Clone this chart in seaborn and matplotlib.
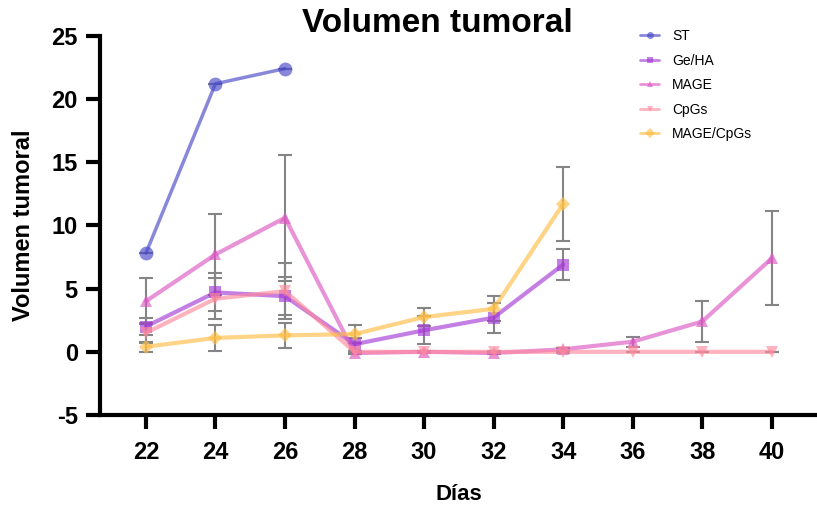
import numpy as np
import pandas as pd
import seaborn as sns
import matplotlib.pyplot as plt

sns.set_style("white")
plt.rcParams['font.family'] = ['Liberation Sans Narrow', 'Liberation Sans', 'DejaVu Sans']
plt.rcParams['axes.unicode_minus'] = False
plt.rcParams['text.color'] = 'black'
plt.rcParams['axes.labelcolor'] = 'black'
plt.rcParams['xtick.color'] = 'black'
plt.rcParams['ytick.color'] = 'black'

# datos (media y error)
dias = [22, 24, 26, 28, 30, 32, 34, 36, 38, 40]
nan = np.nan
st = [7.8, 21.2, 22.4, nan, nan, nan, nan, nan, nan, nan]
st_err = [0, 0, 0, nan, nan, nan, nan, nan, nan, nan]
geha = [2.0, 4.7, 4.4, 0.6, 1.7, 2.7, 6.9, nan, nan, nan]
geha_err = [0.7, 1.5, 1.5, 0.5, 1.1, 1.2, 1.2, nan, nan, nan]
mage = [4.0, 7.7, 10.6, -0.1, 0.0, -0.1, 0.2, 0.8, 2.4, 7.4]
mage_err = [1.8, 3.2, 5.0, 0.1, 0.1, 0.1, 0.1, 0.4, 1.6, 3.7]
cpgs = [1.5, 4.2, 4.8, 0.0, 0.0, 0.0, 0.0, 0.0, 0.0, 0.0]
cpgs_err = [0.8, 1.6, 2.2, 0.1, 0.1, 0.1, 0.1, 0.0, 0.0, 0.0]
mage_cpgs = [0.4, 1.1, 1.3, 1.4, 2.75, 3.4, 11.7, nan, nan, nan]
mage_cpgs_err = [0.4, 1.0, 1.0, 0.7, 0.7, 1.0, 2.9, nan, nan, nan]

grupos = ["ST", "Ge/HA", "MAGE", "CpGs", "MAGE/CpGs"]
medias = [st, geha, mage, cpgs, mage_cpgs]
errores = [st_err, geha_err, mage_err, cpgs_err, mage_cpgs_err]
colores = ["#4848c8", "#a43bd4", "#dc58c4", "#ff8a9c", "#ffbe45"]
marcadores = ["o", "s", "^", "v", "D"]
tamanos = [10, 9, 9, 9, 7]
grosores = [2.5, 3, 3, 3, 3]

fig = plt.figure(figsize=(8.17, 5.08), dpi=100)
ax = fig.add_axes([0.1224, 0.183, 0.8776, 0.7467])

for g, m, e, c, mk, ms, lw in zip(grupos, medias, errores, colores, marcadores, tamanos, grosores):
    df = pd.DataFrame({"dia": dias, "vol": m, "err": e}).dropna()
    ax.errorbar(df["dia"], df["vol"], yerr=df["err"], fmt="none", ecolor="#858585",
                elinewidth=1.5, capsize=5, capthick=1.5, zorder=1)
    sns.lineplot(x=df["dia"], y=df["vol"], ax=ax, color=c, marker=mk, markersize=ms,
                 linewidth=lw, alpha=0.65, markeredgewidth=0, label=g, zorder=2)

ax.set_xlim(20.68, 41.3)
ax.set_ylim(-5, 25)
ax.set_xticks(dias)
ax.set_yticks([-5, 0, 5, 10, 15, 20, 25])
ax.tick_params(axis="both", direction="out", length=10, width=3, labelsize=17, pad=6,
               bottom=True, left=True, colors="black")
ax.tick_params(axis="x", pad=9)
for lab in ax.get_xticklabels() + ax.get_yticklabels():
    lab.set_fontweight("bold")
for s in ["top", "right"]:
    ax.spines[s].set_visible(False)
for s in ["left", "bottom"]:
    ax.spines[s].set_linewidth(3)
    ax.spines[s].set_color("black")

ax.set_xlabel("Días", fontsize=16, fontweight="bold", family="Liberation Sans", labelpad=14)
ax.set_ylabel("Volumen tumoral", fontsize=17, fontweight="bold", family="Liberation Sans", labelpad=12)
fig.text(0.535, 0.953, "Volumen tumoral", ha="center", va="center", fontsize=24,
         fontweight="bold", family="Liberation Sans")

leg = ax.legend(loc="upper left", bbox_to_anchor=(0.768, 0.967), bbox_transform=fig.transFigure,
                frameon=False, labelspacing=0.75, handlelength=1.4, handletextpad=0.9,
                prop={"family": "Liberation Sans", "size": 10})
for h in leg.legend_handles:
    h.set_markersize(5)
    h.set_linewidth(2)

fig.savefig("out.png", dpi=100)
